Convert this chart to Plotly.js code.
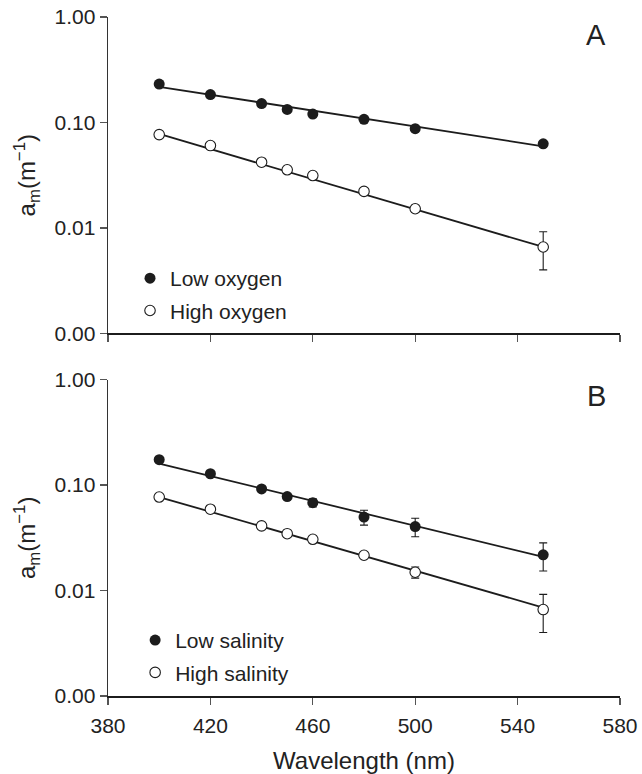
<!DOCTYPE html>
<html>
<head>
<meta charset="utf-8">
<script src="https://cdn.plot.ly/plotly-3.0.1.min.js"></script>
<style>html,body{margin:0;padding:0;background:#fff;}#chart{width:642px;height:774px;}</style>
</head>
<body>
<div id="chart"></div>
<script>
// ---- data ----
const wavelengths = [400, 420, 440, 450, 460, 480, 500, 550];

const lowOxygen      = [0.231, 0.184, 0.151, 0.133, 0.120, 0.107, 0.0873, 0.0627];
const lowOxygenErr   = [0, 0, 0, 0, 0, 0, 0, 0.003];
const highOxygen     = [0.0767, 0.0604, 0.042, 0.0356, 0.0314, 0.0222, 0.0152, 0.0066];
const highOxygenErr  = [0, 0, 0, 0, 0, 0, 0.0012, 0.0026];

const lowSalinity     = [0.174, 0.128, 0.0918, 0.0777, 0.068, 0.0497, 0.0404, 0.0218];
const lowSalinityErr  = [0, 0, 0.004, 0.004, 0.006, 0.008, 0.008, 0.0065];
const highSalinity    = [0.077, 0.059, 0.041, 0.0346, 0.0306, 0.0216, 0.0149, 0.0066];
const highSalinityErr = [0, 0, 0, 0, 0, 0, 0.0018, 0.0026];

// regression lines (end points)
const fitX            = [400, 550];
const lowOxygenFit    = [0.218, 0.0594];
const highOxygenFit   = [0.0778, 0.0066];
const lowSalinityFit  = [0.160, 0.0208];
const highSalinityFit = [0.077, 0.0069];

const xTicks = [380, 420, 460, 500, 540, 580];
const yTicks = [0.001, 0.01, 0.1, 1];
const yTickText = ['0.00', '0.01', '0.10', '1.00'];

// ---- styling ----
const INK = '#1c1c1c';
const FONT = 'Liberation Sans, Arial, Helvetica, sans-serif';

function fitLine(y, xa, ya) {
  return {x: fitX, y: y, xaxis: xa, yaxis: ya, mode: 'lines',
          line: {color: INK, width: 1.8}, showlegend: false, hoverinfo: 'skip'};
}
function pts(y, err, name, filled, xa, ya, legend, grp) {
  return {x: wavelengths, y: y, xaxis: xa, yaxis: ya, mode: 'markers', name: name,
          legend: legend, legendgroup: grp,
          error_y: {type: 'data', array: err, visible: true, color: INK, thickness: 1.1, width: 4},
          marker: filled
            ? {symbol: 'circle', size: 11, color: INK, line: {width: 0}}
            : {symbol: 'circle', size: 10.5, color: '#ffffff', line: {color: INK, width: 1.1}}};
}

const traces = [
  fitLine(lowOxygenFit, 'x', 'y'),
  fitLine(highOxygenFit, 'x', 'y'),
  pts(lowOxygen, lowOxygenErr, 'Low oxygen', true, 'x', 'y', 'legend', 'a1'),
  pts(highOxygen, highOxygenErr, 'High oxygen', false, 'x', 'y', 'legend', 'a2'),
  fitLine(lowSalinityFit, 'x2', 'y2'),
  fitLine(highSalinityFit, 'x2', 'y2'),
  pts(lowSalinity, lowSalinityErr, 'Low salinity', true, 'x2', 'y2', 'legend2', 'b1'),
  pts(highSalinity, highSalinityErr, 'High salinity', false, 'x2', 'y2', 'legend2', 'b2')
];

const yTitle = 'a<sub>m</sub>(m<sup>−1</sup>)';

function xAxis(anchor, labels, title) {
  const ax = {anchor: anchor, range: [380, 580], tickmode: 'array', tickvals: xTicks,
    showticklabels: labels, ticks: 'outside', ticklen: 7, tickwidth: 1.2, tickcolor: '#555',
    ticklabelstandoff: 3,
    showline: true, linecolor: INK, linewidth: 1.8, showgrid: false, zeroline: false,
    tickfont: {family: FONT, size: 21, color: '#222'}, fixedrange: true};
  if (title) ax.title = {text: title, font: {family: FONT, size: 24, color: '#222'}, standoff: 19};
  return ax;
}
function yAxis(anchor, domain) {
  return {anchor: anchor, domain: domain, type: 'log', range: [-3, 0], tickmode: 'array',
    tickvals: yTicks, ticktext: yTickText, ticks: 'outside', ticklen: 7, tickwidth: 1.2,
    tickcolor: '#555', showline: true, linecolor: '#333', linewidth: 1.4, showgrid: false,
    zeroline: false, tickfont: {family: FONT, size: 21, color: '#222'},
    title: {text: yTitle, font: {family: FONT, size: 24, color: '#222'}, standoff: 12},
    fixedrange: true};
}

const legendBase = {xanchor: 'left', yanchor: 'top', bgcolor: 'rgba(0,0,0,0)',
  font: {family: FONT, size: 21, color: '#222'}, tracegroupgap: 2, itemsizing: 'trace'};

const layout = {
  width: 642, height: 774,
  margin: {l: 108, r: 22, t: 17, b: 78},
  paper_bgcolor: '#ffffff', plot_bgcolor: '#ffffff',
  font: {family: FONT, color: '#222'},
  showlegend: true,
  xaxis: xAxis('y', false, null),
  yaxis: yAxis('x', [0.534, 1]),
  xaxis2: xAxis('y2', true, 'Wavelength (nm)'),
  yaxis2: yAxis('x2', [0, 0.466]),
  legend: Object.assign({x: 0.043, y: 0.645}, legendBase),
  legend2: Object.assign({x: 0.053, y: 0.112}, legendBase),
  annotations: [
    {text: 'A', xref: 'paper', yref: 'paper', x: 0.954, y: 0.974, xanchor: 'center', yanchor: 'middle',
     showarrow: false, font: {family: FONT, size: 29, color: '#222'}},
    {text: 'B', xref: 'paper', yref: 'paper', x: 0.954, y: 0.442, xanchor: 'center', yanchor: 'middle',
     showarrow: false, font: {family: FONT, size: 29, color: '#222'}}
  ]
};

Plotly.newPlot('chart', traces, layout, {displayModeBar: false, staticPlot: true});
</script>
</body>
</html>
